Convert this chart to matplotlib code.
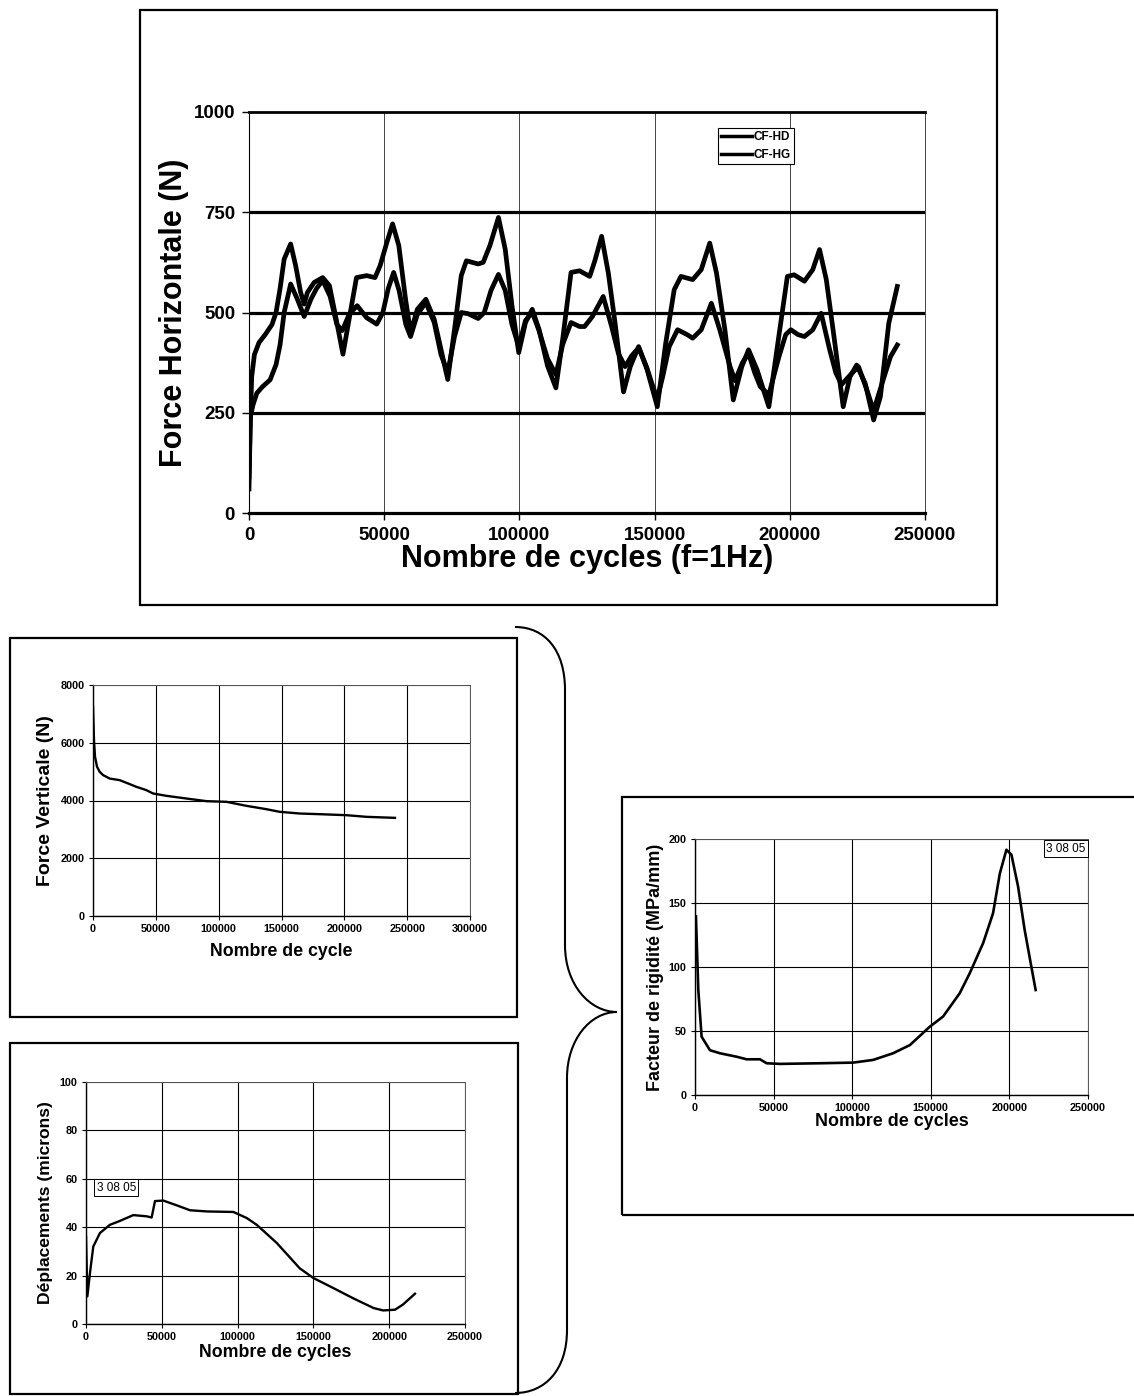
import matplotlib
matplotlib.use("Agg")
import matplotlib.pyplot as plt
from matplotlib.patches import Rectangle, PathPatch
from matplotlib.path import Path

plt.rcParams["font.family"] = ["Liberation Sans", "DejaVu Sans"]
plt.rcParams["font.weight"] = "bold"

# ----------------------------------------------------------------------
# Donnees
# ----------------------------------------------------------------------

# Force horizontale, capteur droit (CF-HD)
cycles_hd = [0, 400, 1000, 2000, 3700, 6000, 8500, 10000, 11500, 13000,
             15400, 17250, 19100, 20400, 21600, 24100, 27250, 29750, 32250,
             34750, 37250, 39750, 43500, 46600, 48500, 51000, 53100, 55400,
             57900, 59750, 62250, 65400, 68500, 71000, 73500, 76000, 78500,
             80400, 84750, 86600, 89100, 92250, 94750, 97250, 99750, 102250,
             104750, 107250, 110400, 113500, 116000, 119100, 122250, 126000,
             127900, 130400, 132900, 135400, 138500, 141000, 144100, 147250,
             151000, 154100, 157250, 159750, 164100, 167250, 170400, 172900,
             176000, 179100, 182250, 184750, 187900, 192250, 195400, 199100,
             201600, 205400, 208500, 211000, 213500, 216000, 219750, 222250,
             224750, 227900, 231000, 233500, 236600, 239750]
force_hd = [60, 200, 340, 395, 425, 445, 470, 500, 560, 633,
            671, 617, 550, 521, 550, 575, 587, 567, 483,
            396, 492, 587, 592, 587, 617, 675, 721, 667,
            533, 450, 508, 533, 483, 408, 333, 458, 592,
            629, 621, 625, 667, 737, 658, 517, 400, 475,
            508, 458, 367, 312, 433, 600, 604, 590,
            629, 690, 598, 473, 302, 365, 415, 357,
            265, 423, 557, 590, 582, 607, 673, 598,
            457, 282, 365, 407, 357, 265, 415, 590,
            594, 578, 607, 657, 582, 457, 265, 340,
            369, 323, 232, 290, 473, 565]

# Force horizontale, capteur gauche (CF-HG)
cycles_hg = [0, 500, 1500, 2900, 5000, 7800, 10000, 11500, 13000, 15400,
             17900, 20400, 22900, 25000, 27250, 30000, 32500, 34500, 37000,
             40000, 43500, 47250, 49500, 51500, 53500, 55500, 58000, 59750,
             62250, 65400, 68500, 71000, 73500, 76000, 78500, 81000, 84750,
             87000, 89500, 92250, 94750, 97250, 99750, 102250, 104750, 107250,
             110400, 113500, 116000, 119100, 122250, 124100, 127000, 131000,
             134100, 136600, 139100, 141500, 144100, 147000, 149000, 151000,
             153000, 155400, 158500, 162000, 164100, 167250, 171000, 174100,
             177900, 179750, 182500, 184750, 187000, 189100, 192250, 196000,
             198500, 200400, 203000, 205400, 208500, 211600, 214750, 217000,
             219100, 222900, 225400, 228500, 231000, 234100, 237250, 239750]
force_hg = [90, 240, 270, 299, 315, 332, 370, 420, 500, 571,
            533, 490, 533, 560, 580, 540, 470, 455, 495,
            517, 487, 471, 500, 560, 600, 555, 470, 440,
            495, 525, 475, 395, 350, 440, 500, 497, 485,
            500, 555, 595, 555, 470, 415, 480, 500, 455,
            385, 345, 420, 475, 465, 465, 490, 540,
            465, 398, 365, 392, 412, 365, 323, 285,
            340, 415, 457, 445, 436, 457, 523, 457,
            365, 330, 375, 398, 350, 315, 295, 390,
            445, 457, 445, 440, 457, 498, 407, 350,
            320, 348, 365, 307, 255, 323, 390, 419]

# Force verticale
cycles_fv = [0, 800, 1600, 3200, 5300, 8000, 13300, 21200, 27900, 34500,
             42500, 47800, 58400, 74300, 90300, 106200, 122100, 138000,
             148700, 164600, 180500, 201800, 217700, 240300]
force_fv = [7250, 6090, 5515, 5170, 4995, 4880, 4760, 4705, 4590, 4474,
            4358, 4243, 4162, 4069, 3977, 3954, 3815, 3699,
            3607, 3549, 3526, 3491, 3434, 3399]

# Deplacements
cycles_dep = [0, 900, 2600, 4800, 9200, 15800, 22000, 31200, 40000, 43300,
              45500, 51000, 60000, 68600, 80000, 97200, 106000, 112600,
              125800, 141000, 150000, 163000, 176000, 189700, 196000,
              203800, 209000, 217000]
dep_microns = [36, 11.4, 21, 32, 37.6, 41, 42.5, 45, 44.5, 44,
               50.8, 51, 49, 47, 46.5, 46.3, 43.8, 41,
               33.5, 23, 19, 14.9, 10.7, 6.6, 5.6,
               5.9, 8, 12.5]

# Facteur de rigidite
cycles_rig = [600, 2100, 4200, 9500, 15900, 26500, 32800, 41300, 45600,
              54000, 79400, 100600, 113300, 126000, 136700, 149400, 157800,
              168400, 174800, 183300, 189600, 193900, 198100, 201300,
              205500, 209700, 214000, 216700]
rigidite = [139.5, 82, 45.6, 35, 32.6, 29.9, 27.9, 27.9, 24.8,
            24.3, 24.8, 25.3, 27.4, 32.6, 39, 53.4, 61.3,
            79.5, 95.2, 118.7, 142, 173, 191.6, 187.7,
            163, 129, 100, 82]

# ----------------------------------------------------------------------
# Mise en page (coordonnees en pixels)
# ----------------------------------------------------------------------

W, H = 1134, 1396
fig = plt.figure(figsize=(W / 100, H / 100), dpi=100)


def rect(l, t, r, b):
    return [l / W, 1 - b / H, (r - l) / W, (b - t) / H]


def frame(l, t, r, b, lw=1.6):
    fig.patches.append(Rectangle((l / W, 1 - b / H), (r - l) / W, (b - t) / H,
                                 transform=fig.transFigure, fill=False,
                                 edgecolor="black", linewidth=lw))


def style_small(ax, xmax, ymax, xstep, ystep, tsize=7.8):
    ax.set_xlim(0, xmax)
    ax.set_ylim(0, ymax)
    xt = list(range(0, xmax + 1, xstep))
    yt = list(range(0, ymax + 1, ystep))
    ax.set_xticks(xt)
    ax.set_yticks(yt)
    ax.set_xticklabels([str(v) for v in xt], fontsize=tsize, fontweight="bold")
    ax.set_yticklabels([str(v) for v in yt], fontsize=tsize, fontweight="bold")
    ax.tick_params(direction="out", length=3, width=0.8, pad=3)
    ax.grid(True, color="black", linewidth=0.8)
    for side in ("top", "right"):
        ax.spines[side].set_color("#555555")
        ax.spines[side].set_linewidth(0.7)
    for side in ("left", "bottom"):
        ax.spines[side].set_linewidth(1.0)


frame(140, 10, 997, 605)
frame(10, 638, 517, 1017)
frame(10, 1043, 518, 1394)
frame(622, 797, 1140, 1215)

# Accolade reliant les deux graphes de gauche a celui de droite
pts = [(515, 627), (545, 627), (565, 650), (565, 690),
       (565, 945),
       (565, 985), (590, 1012), (617, 1012),
       (590, 1012), (567, 1040), (567, 1078),
       (567, 1330),
       (567, 1370), (545, 1393), (515, 1393)]
codes = [Path.MOVETO, Path.CURVE4, Path.CURVE4, Path.CURVE4,
         Path.LINETO,
         Path.CURVE4, Path.CURVE4, Path.CURVE4,
         Path.CURVE4, Path.CURVE4, Path.CURVE4,
         Path.LINETO,
         Path.CURVE4, Path.CURVE4, Path.CURVE4]
brace = Path([(x / W, 1 - y / H) for x, y in pts], codes)
fig.patches.append(PathPatch(brace, transform=fig.transFigure, fill=False,
                             edgecolor="black", linewidth=1.5))

# ----------------------------------------------------------------------
# Force horizontale
# ----------------------------------------------------------------------

ax = fig.add_axes(rect(249, 112, 925, 513))
ax.plot(cycles_hd, force_hd, color="black", linewidth=3.4, label="CF-HD",
        solid_joinstyle="round")
ax.plot(cycles_hg, force_hg, color="black", linewidth=3.4, label="CF-HG",
        solid_joinstyle="round")
ax.set_xlim(0, 250000)
ax.set_ylim(0, 1000)
xt = list(range(0, 250001, 50000))
yt = [0, 250, 500, 750, 1000]
ax.set_xticks(xt)
ax.set_yticks(yt)
ax.set_xticklabels([str(v) for v in xt], fontsize=13.5, fontweight="bold")
ax.set_yticklabels([str(v) for v in yt], fontsize=13.5, fontweight="bold")
ax.tick_params(direction="out", length=5, width=1.0, pad=5)
for v in xt[1:-1]:
    ax.axvline(v, color="#444444", linewidth=0.7, zorder=0)
for v in yt[1:-1]:
    ax.axhline(v, color="black", linewidth=2.3, zorder=0)
ax.spines["top"].set_linewidth(2.0)
ax.spines["bottom"].set_linewidth(2.3)
ax.spines["left"].set_linewidth(0.8)
ax.spines["right"].set_linewidth(0.7)
ax.spines["right"].set_color("#444444")
ax.set_xlabel("Nombre de cycles (f=1Hz)", fontsize=22, fontweight="bold",
              labelpad=0)
ax.set_ylabel("Force Horizontale (N)", fontsize=22, fontweight="bold",
              labelpad=3)
leg = ax.legend(loc="upper right", bbox_to_anchor=(0.815, 0.975),
                prop={"size": 8.5, "weight": "bold"}, handlelength=2.6,
                handletextpad=0.1, borderpad=0.3, labelspacing=0.45,
                fancybox=False, framealpha=1)
leg.get_frame().set_edgecolor("black")
leg.get_frame().set_linewidth(0.8)
for line in leg.get_lines():
    line.set_linewidth(2.5)

# ----------------------------------------------------------------------
# Force verticale
# ----------------------------------------------------------------------

ax = fig.add_axes(rect(93, 685, 470, 916))
ax.plot(cycles_fv, force_fv, color="black", linewidth=1.7)
style_small(ax, 300000, 8000, 50000, 2000)
ax.set_xlabel("Nombre de cycle", fontsize=12.8, fontweight="bold", labelpad=6)
ax.set_ylabel("Force Verticale (N)", fontsize=14, fontweight="bold",
              labelpad=5)

# ----------------------------------------------------------------------
# Deplacements
# ----------------------------------------------------------------------

ax = fig.add_axes(rect(86, 1082, 465, 1324))
ax.plot(cycles_dep, dep_microns, color="black", linewidth=1.7)
style_small(ax, 250000, 100, 50000, 20)
ax.set_xlabel("Nombre de cycles", fontsize=12.8, fontweight="bold",
              labelpad=1)
ax.set_ylabel("Déplacements (microns)", fontsize=12.6, fontweight="bold",
              labelpad=5)
ax.text(7000, 56.3, "3 08 05", fontsize=8.5, fontweight="normal",
        ha="left", va="center",
        bbox=dict(boxstyle="square,pad=0.2", facecolor="white",
                  edgecolor="black", linewidth=0.7))

# ----------------------------------------------------------------------
# Facteur de rigidite
# ----------------------------------------------------------------------

ax = fig.add_axes(rect(695, 839, 1088, 1095))
ax.plot(cycles_rig, rigidite, color="black", linewidth=1.9)
style_small(ax, 250000, 200, 50000, 50)
ax.set_xlabel("Nombre de cycles", fontsize=12.9, fontweight="bold",
              labelpad=0)
ax.set_ylabel("Facteur de rigidité (MPa/mm)", fontsize=13,
              fontweight="bold", labelpad=3)
ax.text(248500, 192.3, "3 08 05", fontsize=8.5, fontweight="normal",
        ha="right", va="center",
        bbox=dict(boxstyle="square,pad=0.2", facecolor="white",
                  edgecolor="black", linewidth=0.7))

fig.savefig("out.png", dpi=100, facecolor="white")
